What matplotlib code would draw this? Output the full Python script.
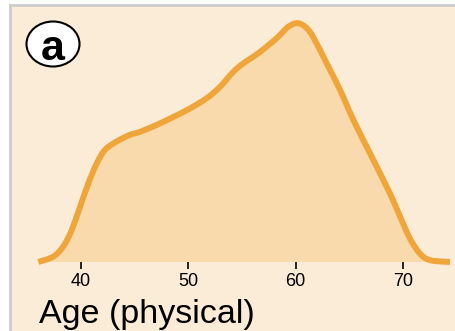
import numpy as np
import matplotlib.pyplot as plt
from matplotlib.patches import Ellipse, PathPatch
from matplotlib.path import Path

plt.rcParams['font.family'] = ['Liberation Sans', 'DejaVu Sans']

# density curve (age in years, density)
age = [36.02, 37.42, 38.35, 39.13, 39.91, 40.68, 41.46, 42.24, 43.33, 44.57, 45.50,
       47.36, 49.85, 51.71, 52.95, 54.19, 55.12, 56.52, 58.23, 59.31, 60.25, 61.18,
       61.96, 62.89, 64.13, 65.37, 66.93, 68.79, 69.72, 70.65, 71.58, 72.52, 74.38]
density = [0.0, 0.0009, 0.0026, 0.0053, 0.0092, 0.0131, 0.0164, 0.0187, 0.0201,
           0.0212, 0.0217, 0.0231, 0.0253, 0.0273, 0.0292, 0.0317, 0.0331, 0.0348,
           0.0373, 0.0392, 0.0398, 0.0387, 0.0364, 0.0331, 0.0287, 0.0237, 0.0181,
           0.0114, 0.0076, 0.0039, 0.0014, 0.0003, 0.0]
ticks = [40, 50, 60, 70]

bg = '#FBECD7'
fill_col = '#F8DAAC'
line_col = '#F0A53A'


def smooth_path(xs, ys, close=False):
    # catmull-rom through the points, written as cubic bezier segments
    p = np.column_stack([xs, ys])
    pts = np.vstack([p[0], p, p[-1]])
    verts = [p[0]]
    codes = [Path.MOVETO]
    for i in range(1, len(pts) - 2):
        p0, p1, p2, p3 = pts[i - 1], pts[i], pts[i + 1], pts[i + 2]
        verts += [p1 + (p2 - p0) / 6, p2 - (p3 - p1) / 6, p2]
        codes += [Path.CURVE4] * 3
    if close:
        verts += [(xs[-1], 0), (xs[0], 0), (xs[0], 0)]
        codes += [Path.LINETO, Path.LINETO, Path.CLOSEPOLY]
    return Path(verts, codes)


fig = plt.figure(figsize=(4.56, 3.31), dpi=100)
fig.patch.set_facecolor('white')

# panel background with grey border on top/left
top = (331 - 5) / 331
bax = fig.add_axes([10 / 456, 0, 1 - 10 / 456, top], zorder=0)
bax.set_facecolor(bg)
bax.set_xticks([])
bax.set_yticks([])
for side, s in bax.spines.items():
    s.set_visible(side in ('left', 'top'))
    s.set_color('#CCCCCC')
    s.set_linewidth(2)

# axes placed so that 40 -> x=81px, 70 -> x=403px, baseline at y=262px
px_per_year = (403 - 81) / 30
left_px, right_px = 37, 451
ax = fig.add_axes([left_px / 456, (331 - 262) / 331,
                   (right_px - left_px) / 456, (262 - 22) / 331], zorder=1)
ax.set_facecolor('none')
ax.set_xlim(40 - (81 - left_px) / px_per_year, 40 + (right_px - 81) / px_per_year)
ax.set_ylim(0, 0.04)

ax.add_patch(PathPatch(smooth_path(age, density, close=True), facecolor=fill_col,
                       edgecolor='none'))
ax.add_patch(PathPatch(smooth_path(age, density), facecolor='none', edgecolor=line_col,
                       lw=4.3, capstyle='butt', clip_on=False))

for s in ax.spines.values():
    s.set_visible(False)
ax.set_yticks([])
ax.set_xticks(ticks)
ax.tick_params(axis='x', length=5, width=1.2, color='black', labelsize=13, pad=3)

fig.text(39 / 456, (331 - 323) / 331, 'Age (physical)', fontsize=24.5, ha='left',
         va='baseline', color='black', zorder=2)

# panel letter
fig.add_artist(Ellipse((53 / 456, (331 - 44) / 331), 53 / 456, 45 / 331,
                       transform=fig.transFigure, facecolor='white',
                       edgecolor='black', lw=1.5, zorder=3))
fig.text(53 / 456, (331 - 44) / 331, 'a', fontsize=31, fontweight='bold',
         ha='center', va='center_baseline', color='black', zorder=4)

fig.savefig('out.png', dpi=100)
